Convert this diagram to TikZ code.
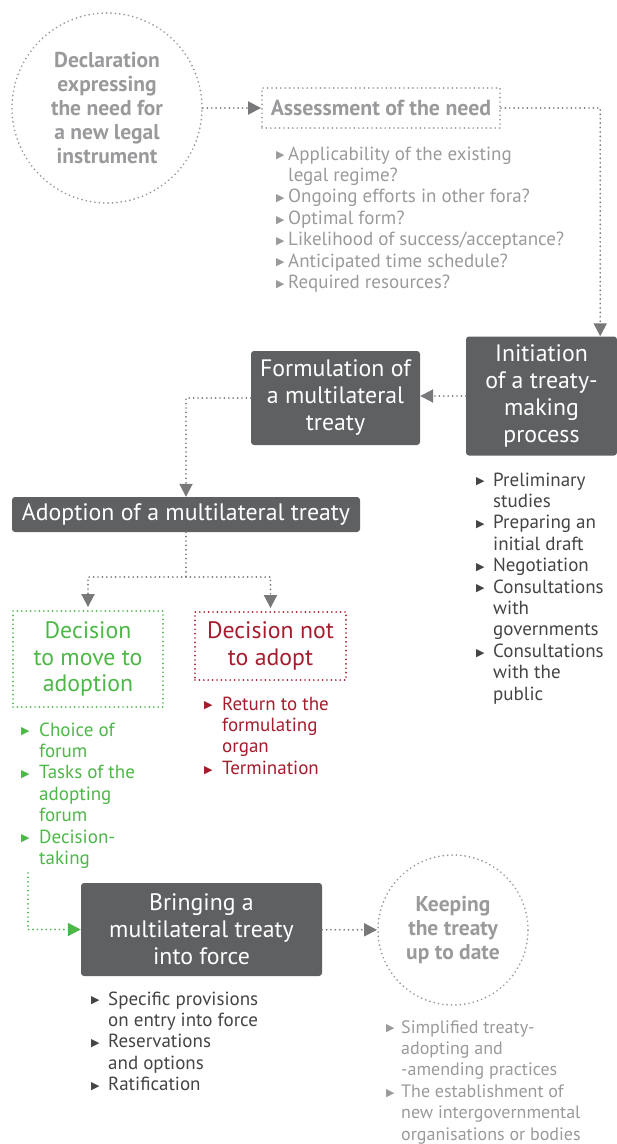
\documentclass[tikz,border=0pt]{standalone}
\usepackage{fontspec}
\setmainfont{PT Sans}
\newfontfamily\symfont{DejaVu Sans}
\usetikzlibrary{arrows.meta}
\definecolor{boxgray}{HTML}{5F6062}
\definecolor{softgray}{HTML}{9A9A9C}
\definecolor{linegray}{HTML}{78787A}
\definecolor{textgray}{HTML}{444446}
\definecolor{leafgreen}{HTML}{4DB748}
\definecolor{wine}{HTML}{A51D2D}
\newcommand{\tri}{\raisebox{1.2pt}{\symfont\fontsize{11}{11}\selectfont ▶}}
\newcommand{\lst}[2]{\begin{tabular}[t]{@{}p{#1}@{}l@{}}#2\end{tabular}}
\begin{document}
\begin{tikzpicture}[x=1pt,y=-1pt,
  darkbox/.style={fill=boxgray,text=white,rounded corners=3pt,align=center,inner sep=0pt,
    font=\fontsize{23.8}{27}\selectfont},
  dotline/.style={dash pattern=on 0pt off 4.4pt,line cap=round,line width=1.9pt},
  dotbox/.style={dotline,align=center,inner sep=0pt},
  tip/.style={-{Triangle[length=13pt,width=13pt]}},
  listtext/.style={anchor=base west,inner sep=0pt,font=\fontsize{19}{21.4}\selectfont}]
\useasboundingbox (0,0) rectangle (617,1144);
\node[dotbox,circle,draw=softgray,text=softgray,minimum size=190pt,
  font=\bfseries\fontsize{21.5}{24}\selectfont] (1) at (107,108)
  {Declaration\\expressing\\the need for\\a new legal\\instrument};
\node[dotbox,draw=softgray,text=softgray,minimum width=238pt,minimum height=40pt,
  font=\bfseries\fontsize{21.8}{24}\selectfont] (2) at (381,108) {Assessment of the need};
\node[darkbox,minimum width=151pt,minimum height=119pt] (3) at (541.5,396)
  {Initiation\\of a treaty-\\making\\process};
\node[darkbox,minimum width=169pt,minimum height=94pt] (4) at (335.5,398)
  {Formulation of\\a multilateral\\treaty};
\node[darkbox,minimum width=348pt,minimum height=35pt] (5) at (186,514.5)
  {Adoption of a multilateral treaty};
\node[dotbox,draw=leafgreen,text=leafgreen,minimum width=150pt,minimum height=96pt,
  font=\fontsize{23.8}{26.5}\selectfont] (6) at (88,659) {Decision\\to move to\\adoption};
\node[dotbox,draw=wine,text=wine,minimum width=151pt,minimum height=68pt,
  font=\fontsize{23.8}{26.5}\selectfont] (7) at (270.5,646) {Decision not\\to adopt};
\node[darkbox,minimum width=241pt,minimum height=93pt] (8) at (201.5,929.5)
  {Bringing a\\multilateral treaty\\into force};
\node[dotbox,circle,draw=softgray,text=softgray,minimum size=150pt,
  font=\bfseries\fontsize{21.5}{24}\selectfont] (9) at (453,930)
  {Keeping\\the treaty\\up to date};
\node[listtext,text=softgray] (10) at (276,160) {\lst{12pt}{
  \tri & Applicability of the existing\\ & legal regime?\\
  \tri & Ongoing efforts in other fora?\\
  \tri & Optimal form?\\
  \tri & Likelihood of success/acceptance?\\
  \tri & Anticipated time schedule?\\
  \tri & Required resources?}};
\node[listtext,text=textgray] (11) at (476,486) {\lst{17pt}{
  \tri & Preliminary\\ & studies\\
  \tri & Preparing an\\ & initial draft\\
  \tri & Negotiation\\
  \tri & Consultations\\ & with\\ & governments\\
  \tri & Consultations\\ & with the\\ & public}};
\node[listtext,text=leafgreen] (12) at (21,736) {\lst{18pt}{
  \tri & Choice of\\ & forum\\
  \tri & Tasks of the\\ & adopting\\ & forum\\
  \tri & Decision-\\ & taking}};
\node[listtext,text=wine] (13) at (204,710) {\lst{18pt}{
  \tri & Return to the\\ & formulating\\ & organ\\
  \tri & Termination}};
\node[listtext,text=textgray] (14) at (91,1005) {\lst{17pt}{
  \tri & Specific provisions\\ & on entry into force\\
  \tri & Reservations\\ & and options\\
  \tri & Ratification}};
\node[listtext,text=softgray,font=\fontsize{18}{21.4}\selectfont] (15) at (386,1033) {\lst{15pt}{
  \tri & Simplified treaty-\\ & adopting and\\ & -amending practices\\
  \tri & The establishment of\\ & new intergovernmental\\ & organisations or bodies}};
\coordinate (s) at (5.south |- 0,577);
\coordinate (g) at (28,873);
\path[draw,dotline,tip,linegray] (1) -- (2);
\path[draw,dotline,tip,linegray] (2) -| ([xshift=-17pt]3.north east);
\path[draw,dotline,tip,linegray] (3) -- (3 -| 4.east);
\path[draw,dotline,tip,linegray] (4) -| (5);
\path[draw,dotline,linegray] (5) -- (s);
\path[draw,dotline,tip,linegray,shorten >=3pt] (s) -| (6);
\path[draw,dotline,tip,linegray,shorten >=3pt] (s) -| (7);
\path[draw,dotline,tip,leafgreen] (g) |- (8);
\path[draw,dotline,tip,linegray] (8) -- (9);
\end{tikzpicture}
\end{document}
